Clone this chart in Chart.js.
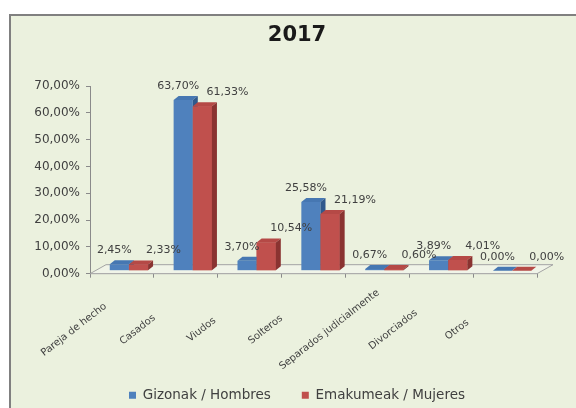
<!DOCTYPE html>
<html>
<head>
<meta charset="utf-8">
<script src="https://cdn.jsdelivr.net/npm/chart.js@4.4.1/dist/chart.umd.min.js"></script>
<style>
  html, body { margin: 0; padding: 0; background: #fff; overflow: hidden; }
  #frame {
    position: absolute; left: 9px; top: 14px;
    width: 600px; height: 420px;
    border-top: 2px solid #808080;
    border-left: 2px solid #808080;
    background: #EBF1DE;
  }
  canvas { display: block; }
</style>
</head>
<body>
<div id="frame"><canvas id="chart" width="572" height="396"></canvas></div>
<script>
const categories = ["Pareja de hecho", "Casados", "Viudos", "Solteros", "Separados judicialmente", "Divorciados", "Otros"];
const hombres = [2.45, 63.70, 3.70, 25.58, 0.67, 3.89, 0.00];
const mujeres = [2.33, 61.33, 10.54, 21.19, 0.60, 4.01, 0.00];
const yTicks = [0, 10, 20, 30, 40, 50, 60, 70];

const FONT = "DejaVu Sans";
const TEXT = "#404040";
const AXIS = "#8a8a8a";

// fake 3d look
const SHIFT_X = 7, SHIFT_Y = -3;   // bars stand half way into the floor
const DEPTH_X = 5, DEPTH_Y = -4;   // bar thickness
const FLOOR_X = 16, FLOOR_Y = -9;  // floor depth

const fronts = ["#4F81BD", "#C0504D"];
const tops = ["#4677B2", "#B54946"];
const sides = ["#30598C", "#8A3331"];

function pct(v) {
    return v.toFixed(2).replace(".", ",") + "%";
}

const threeD = {
    id: "threeD",
    beforeDatasetsDraw(chart) {
        const { ctx, chartArea, scales: { y } } = chart;
        const y0 = y.getPixelForValue(0);

        ctx.save();
        ctx.beginPath();
        ctx.moveTo(chartArea.left, y0);
        ctx.lineTo(chartArea.left + FLOOR_X, y0 + FLOOR_Y);
        ctx.lineTo(chartArea.right + FLOOR_X, y0 + FLOOR_Y);
        ctx.lineTo(chartArea.right, y0);
        ctx.closePath();
        ctx.fillStyle = "#F0F4E8";
        ctx.fill();
        ctx.strokeStyle = "#a3a3a3";
        ctx.lineWidth = 1;
        ctx.stroke();
        ctx.restore();

        ctx.save();
        ctx.translate(SHIFT_X, SHIFT_Y);
    },
    afterDatasetsDraw(chart) {
        const { ctx } = chart;
        const metas = [chart.getDatasetMeta(0), chart.getDatasetMeta(1)];

        categories.forEach((c, i) => {
            metas.forEach((meta, ds) => {
                const bar = meta.data[i];
                const left = bar.x - bar.width / 2;
                const right = bar.x + bar.width / 2;
                const top = bar.y;
                const base = bar.base;

                // red front goes over the blue side face
                if (ds > 0) {
                    ctx.fillStyle = fronts[ds];
                    ctx.fillRect(left, top, bar.width, base - top);
                }

                ctx.beginPath();
                ctx.moveTo(left, top);
                ctx.lineTo(left + DEPTH_X, top + DEPTH_Y);
                ctx.lineTo(right + DEPTH_X, top + DEPTH_Y);
                ctx.lineTo(right, top);
                ctx.closePath();
                ctx.fillStyle = tops[ds];
                ctx.fill();

                ctx.beginPath();
                ctx.moveTo(right, top);
                ctx.lineTo(right + DEPTH_X, top + DEPTH_Y);
                ctx.lineTo(right + DEPTH_X, base + DEPTH_Y);
                ctx.lineTo(right, base);
                ctx.closePath();
                ctx.fillStyle = sides[ds];
                ctx.fill();
            });
        });
        ctx.restore();

        // value labels
        ctx.save();
        ctx.font = "11px '" + FONT + "'";
        ctx.fillStyle = TEXT;
        ctx.textAlign = "center";
        ctx.textBaseline = "middle";
        metas.forEach((meta, ds) => {
            const values = ds === 0 ? hombres : mujeres;
            meta.data.forEach((bar, i) => {
                const dx = ds === 0 ? -5 : 25;
                ctx.fillText(pct(values[i]), bar.x + SHIFT_X + dx, bar.y + SHIFT_Y - 14);
            });
        });
        ctx.restore();
    },
    afterDraw(chart) {
        // slanted category names, centred under each group like Excel does
        const { ctx, chartArea, scales: { x } } = chart;
        ctx.save();
        ctx.font = "10px '" + FONT + "'";
        ctx.fillStyle = TEXT;
        ctx.textAlign = "center";
        ctx.textBaseline = "middle";
        categories.forEach((c, i) => {
            ctx.save();
            ctx.translate(x.getPixelForValue(i) - 48, chartArea.bottom + 56);
            ctx.rotate(-38 * Math.PI / 180);
            ctx.fillText(c, 0, 0);
            ctx.restore();
        });
        ctx.restore();
    }
};

new Chart(document.getElementById("chart"), {
    type: "bar",
    data: {
        labels: categories,
        datasets: [
            {
                label: "Gizonak / Hombres",
                data: hombres,
                backgroundColor: fronts[0],
                borderWidth: 0
            },
            {
                label: "Emakumeak / Mujeres",
                data: mujeres,
                backgroundColor: fronts[1],
                borderWidth: 0
            }
        ]
    },
    options: {
        responsive: false,
        animation: false,
        events: [],
        categoryPercentage: 0.6,
        barPercentage: 1.0,
        layout: {
            padding: 0
        },
        plugins: {
            title: {
                display: true,
                text: "2017",
                color: "#1a1a1a",
                font: { family: FONT, size: 21, weight: "bold" },
                padding: { top: 7, bottom: 37.8 }
            },
            legend: {
                position: "bottom",
                labels: {
                    boxWidth: 7,
                    boxHeight: 7,
                    padding: 31,
                    color: TEXT,
                    font: { family: FONT, size: 13.5 }
                }
            },
            tooltip: { enabled: false }
        },
        scales: {
            x: {
                grid: {
                    drawOnChartArea: false,
                    tickLength: 4,
                    color: AXIS
                },
                border: { color: AXIS },
                ticks: { display: false },
                afterFit(scale) {
                    scale.height = 83.8;
                }
            },
            y: {
                min: 0,
                max: 70,
                afterBuildTicks(scale) {
                    scale.ticks = yTicks.map(v => ({ value: v }));
                },
                grid: {
                    drawOnChartArea: false,
                    tickLength: 4,
                    color: AXIS
                },
                border: { color: AXIS },
                ticks: {
                    padding: 6,
                    color: TEXT,
                    font: { family: FONT, size: 12 },
                    callback: v => pct(v)
                },
                afterFit(scale) {
                    scale.width = 79;
                }
            },
            // empty right axis, keeps the plot off the right side
            yRight: {
                position: "right",
                grid: { display: false },
                border: { display: false },
                ticks: { display: false },
                afterFit(scale) {
                    scale.width = 46;
                }
            }
        }
    },
    plugins: [threeD]
});
</script>
</body>
</html>
